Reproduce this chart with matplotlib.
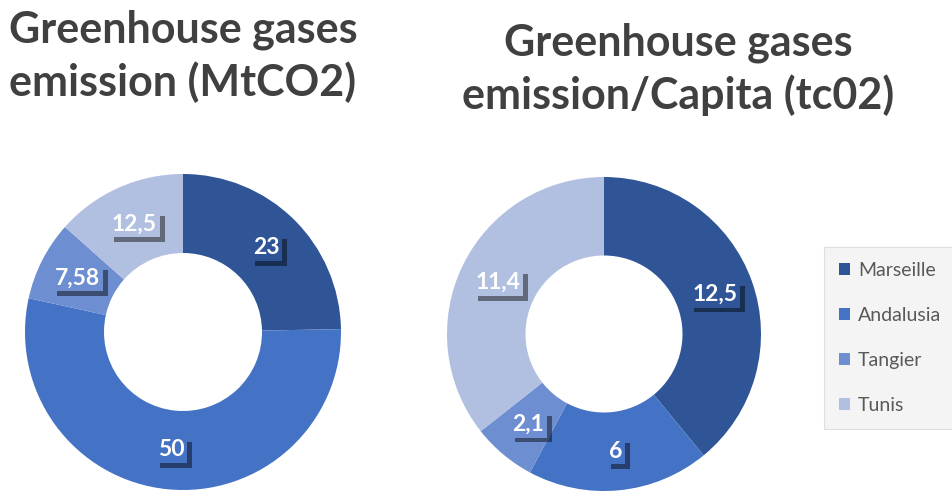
import matplotlib
matplotlib.use("Agg")
import matplotlib.pyplot as plt
import matplotlib.patheffects as pe
from matplotlib.patches import Patch

plt.rcParams['font.family'] = ['Lato', 'DejaVu Sans']

# data
cities = ['Marseille', 'Andalusia', 'Tangier', 'Tunis']
emission_mt = [23, 50, 7.58, 12.5]
emission_capita = [12.5, 6, 2.1, 11.4]
title_left = 'Greenhouse gases\nemission (MtCO2)'
title_right = 'Greenhouse gases\nemission/Capita (tc02)'
colors = ['#2F5597', '#4472C4', '#6D8ED0', '#B1BFE1']

W, H = 953, 492
fig = plt.figure(figsize=(W / 100, H / 100), dpi=100)


def fmt(v):
    s = ('%g' % v).replace('.', ',')
    return s


def donut(cx, cy, r, values, title, tx, ty):
    # axes placed in pixel coords (cy measured from top)
    ax = fig.add_axes([(cx - r) / W, (H - cy - r) / H, 2 * r / W, 2 * r / H])
    wedges, texts = ax.pie(values, colors=colors, startangle=90, counterclock=False,
                           radius=1, labels=[fmt(v) for v in values], labeldistance=0.75,
                           wedgeprops=dict(width=0.5, edgecolor='none'),
                           textprops=dict(color='white', fontsize=16.5, fontweight='bold',
                                          ha='center', va='center'))
    for t, c in zip(texts, colors):
        t.set_bbox(dict(boxstyle='square,pad=0.12', fc=c, ec='none'))
        t.get_bbox_patch().set_path_effects(
            [pe.withSimplePatchShadow(offset=(3.5, -3.5), shadow_rgbFace='black', alpha=0.45)])
    for w in wedges:
        w.set_clip_on(False)
    ax.set_xlim(-1, 1)
    ax.set_ylim(-1, 1)
    ax.set_aspect('equal')
    ax.axis('off')
    fig.text(tx / W, 1 - ty / H, title, ha='center', va='center', fontsize=31,
             fontweight='bold', color='#404040', linespacing=1.33)
    return wedges


wedges = donut(183, 332, 158, emission_mt, title_left, 183, 56)
donut(604, 334, 157, emission_capita, title_right, 678, 69)

handles = [Patch(facecolor=c, edgecolor='none') for c in colors]
leg = fig.legend(handles, cities, loc='upper left', bbox_to_anchor=(824 / W, 1 - 247 / H),
                 frameon=True, fancybox=False, fontsize=14, labelcolor='#595959',
                 handlelength=0.6, handleheight=0.6, handletextpad=0.4,
                 labelspacing=1.45, borderpad=0.75, borderaxespad=0)
leg.get_frame().set_facecolor('#F2F2F2')
leg.get_frame().set_edgecolor('#D9D9D9')
leg.get_frame().set_linewidth(0.8)

fig.savefig('out.png', dpi=100)
